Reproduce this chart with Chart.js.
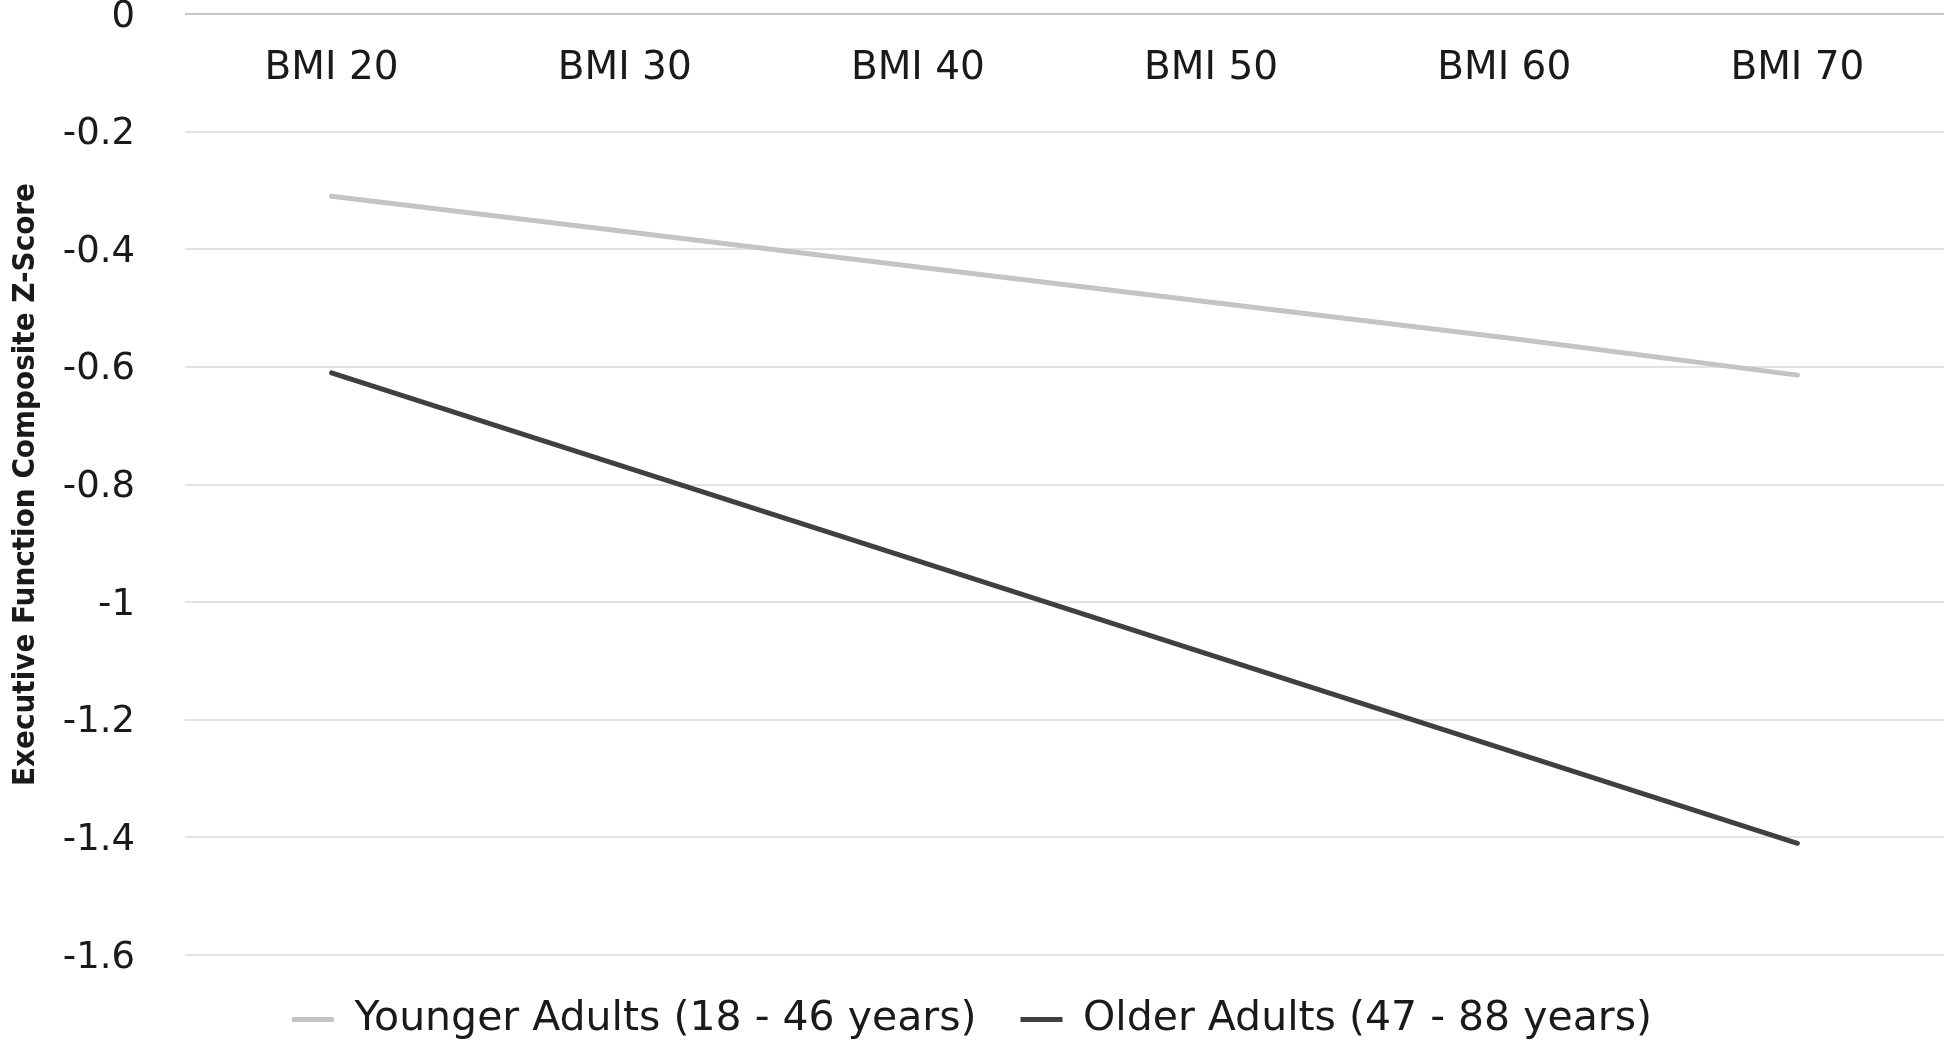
<!DOCTYPE html>
<html lang="en">
<head>
  <meta charset="UTF-8" />
  <title>Executive Function by BMI</title>
  <style>
    html, body { margin: 0; padding: 0; background: #ffffff; }
    #wrap { width: 1950px; height: 1043px; }
  </style>
</head>
<body>
  <div id="wrap"><canvas id="myChart" width="1950" height="1043"></canvas></div>

  <script src="https://cdn.jsdelivr.net/npm/chart.js"></script>
  <script>
    // categories + series
    const bmiLabels = ['BMI 20', 'BMI 30', 'BMI 40', 'BMI 50', 'BMI 60', 'BMI 70'];
    const youngerAdults = [-0.31, -0.37, -0.43, -0.49, -0.55, -0.614];
    const olderAdults = [-0.61, -0.77, -0.93, -1.09, -1.25, -1.41];
    const seriesNames = ['Younger Adults (18 - 46 years)', 'Older Adults (47 - 88 years)'];
    const yTitle = 'Executive Function Composite Z-Score';

    const textColor = '#1a1a1a';

    const ctx = document.getElementById('myChart').getContext('2d');
    new Chart(ctx, {
      type: 'line',
      data: {
        labels: bmiLabels,
        datasets: [{
          label: seriesNames[0],
          data: youngerAdults,
          borderColor: '#c4c4c4',
          backgroundColor: '#c4c4c4',
          borderWidth: 5,
          borderCapStyle: 'round',
          pointRadius: 0,
          tension: 0
        }, {
          label: seriesNames[1],
          data: olderAdults,
          borderColor: '#404040',
          backgroundColor: '#404040',
          borderWidth: 5,
          borderCapStyle: 'round',
          pointRadius: 0,
          tension: 0
        }]
      },
      options: {
        responsive: false,
        animation: false,
        // negative bottom padding pushes the legend row a little lower
        layout: { padding: { top: 14, left: 0, right: 6, bottom: -7 } },
        plugins: {
          tooltip: { enabled: false },
          legend: {
            position: 'bottom',
            labels: {
              color: textColor,
              font: { family: 'DejaVu Sans', size: 41 },
              boxWidth: 42,
              boxHeight: 5,
              padding: 44,
              generateLabels: chart => Chart.defaults.plugins.legend.labels.generateLabels(chart)
                .map(item => ({ ...item, lineWidth: 0, fillStyle: item.strokeStyle }))
            }
          }
        },
        scales: {
          x: {
            type: 'category',
            position: { y: 0 },
            offset: true,
            grid: { display: false },
            border: { display: false },
            ticks: {
              color: textColor,
              font: { family: 'DejaVu Sans', size: 39 },
              padding: 23,
              maxRotation: 0
            },
            afterFit: s => { s.paddingLeft = 0; s.paddingRight = 0; }
          },
          y: {
            min: -1.6,
            max: 0,
            border: { display: false },
            grid: {
              drawTicks: false,
              lineWidth: 2,
              color: c => c.tick && c.tick.value === 0 ? '#c6c6c6' : '#e2e2e2'
            },
            ticks: {
              stepSize: 0.2,
              color: textColor,
              font: { family: 'DejaVu Sans', size: 37 },
              padding: 50,
              labelOffset: 3,
              callback: v => String(Number(v.toFixed(1)))
            },
            title: {
              display: true,
              text: yTitle,
              color: textColor,
              font: { family: 'DejaVu Sans Condensed', size: 31, weight: 'bold' },
              padding: { top: 7, bottom: 0 }
            },
            afterFit: s => { s.width = 185; s.paddingTop = 0; s.paddingBottom = 0; }
          }
        }
      }
    });
  </script>
</body>
</html>
